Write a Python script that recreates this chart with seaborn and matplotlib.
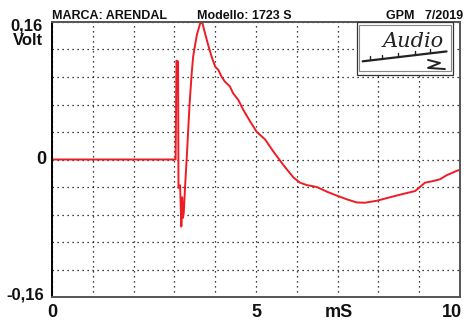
import matplotlib
matplotlib.use("Agg")
import matplotlib.pyplot as plt
import seaborn as sns
import pandas as pd
import numpy as np
from matplotlib.patches import Rectangle

# ---- data ----
time_ms = [0.0, 3.03, 3.05, 3.09, 3.10, 3.14, 3.17, 3.19, 3.21, 3.23, 3.26, 3.30,
           3.37, 3.42, 3.46, 3.55, 3.63, 3.68, 3.75, 3.83, 3.91, 4.00, 4.08, 4.16,
           4.24, 4.36, 4.44, 4.57, 4.69, 4.86, 5.02, 5.22, 5.43, 5.67, 5.92, 6.08,
           6.24, 6.49, 6.74, 6.98, 7.23, 7.47, 7.67, 7.96, 8.28, 8.61, 8.90, 9.02,
           9.14, 9.31, 9.51, 9.67, 9.93, 10.0]
volt = [0.0, 0.0, 0.115, 0.114, -0.033, -0.030, -0.078, -0.044, -0.068, -0.062, -0.033, 0.0,
        0.063, 0.098, 0.120, 0.145, 0.158, 0.160, 0.147, 0.133, 0.120, 0.108, 0.104, 0.096,
        0.0905, 0.085, 0.077, 0.069, 0.0576, 0.044, 0.032, 0.0235, 0.009, -0.0064, -0.021, -0.027,
        -0.0297, -0.032, -0.0375, -0.042, -0.0464, -0.050, -0.0503, -0.048, -0.044, -0.040, -0.0367, -0.032,
        -0.027, -0.0254, -0.023, -0.0184, -0.013, -0.012]

header_left = "MARCA: ARENDAL"
header_mid = "Modello: 1723 S"
header_right = "GPM   7/2019"
y_top_label = "0,16"
y_unit = "Volt"
y_zero_label = "0"
y_bottom_label = "-0,16"
x_label_pos = [0, 5, 9.8]
x_label_txt = ["0", "5", "10"]
x_unit = "mS"
logo_text = "Audio"

df = pd.DataFrame({"t": time_ms, "v": volt})

sns.set_theme(style="white")
plt.rcParams['font.family'] = ['Liberation Sans', 'DejaVu Sans']

fig = plt.figure(figsize=(4.69, 3.20), dpi=100)
ax = fig.add_axes([52/469, 1-297/320, 408/469, 275/320])

sns.lineplot(data=df, x="t", y="v", ax=ax, color="#ee1c25", linewidth=1.4,
             sort=False, estimator=None)

ax.set_xlim(0, 10)
ax.set_ylim(-0.16, 0.16)
ax.set_xticks(np.arange(0, 10.01, 1.0))
ax.set_yticks(np.linspace(-0.16, 0.16, 11))
ax.set_xticklabels([])
ax.set_yticklabels([])
ax.tick_params(length=0)
ax.set_xlabel("")
ax.set_ylabel("")
ax.grid(True, color="black", linestyle=(0, (1, 3)), linewidth=0.9)

for s in ["top", "right", "bottom"]:
    ax.spines[s].set_color("#555555")
    ax.spines[s].set_linewidth(1.4)
ax.spines["left"].set_color("black")
ax.spines["left"].set_linewidth(1.4)

bold = dict(fontweight="bold", color="#111111")
# header
fig.text(52/469, 1-19/320, header_left, fontsize=9, ha="left", va="baseline", **bold)
fig.text(197/469, 1-19/320, header_mid, fontsize=9, ha="left", va="baseline", **bold)
fig.text(463/469, 1-19/320, header_right, fontsize=9, ha="right", va="baseline", **bold)

# y labels
fig.text(43/469, 1-30.5/320, y_top_label, fontsize=12, ha="right", va="baseline", **bold)
fig.text(43/469, 1-45/320, y_unit, fontsize=12, ha="right", va="baseline", **bold)
ax.text(-0.013, 0.0, y_zero_label, transform=ax.get_yaxis_transform(), fontsize=13,
        ha="right", va="center", **bold)
fig.text(44/469, 1-299/320, y_bottom_label, fontsize=12, ha="right", va="baseline", **bold)

# x labels
for k, lab in zip(x_label_pos, x_label_txt):
    ax.text(k, -0.071, lab, transform=ax.get_xaxis_transform(), fontsize=13,
            ha="center", va="baseline", **bold)
ax.text(7.03, -0.071, x_unit, transform=ax.get_xaxis_transform(), fontsize=13,
        ha="center", va="baseline", **bold)

# logo box
ax.add_patch(Rectangle((0.747, 0.808), 0.2366, 0.192, transform=ax.transAxes,
                       facecolor="white", edgecolor="#333333", linewidth=0.9, zorder=5,
                       clip_on=False))
ax.add_patch(Rectangle((0.7525, 0.8207), 0.2245, 0.167, transform=ax.transAxes,
                       facecolor="white", edgecolor="#888888", linewidth=0.8, zorder=6))
ax.text(0.885, 0.93, logo_text, transform=ax.transAxes, fontsize=15, style="italic",
        family=["DejaVu Serif"], ha="center", va="center", color="#222222", zorder=7)
x0, y0, x1, y1 = 0.7615, 0.857, 0.967, 0.893
ax.plot([x0, x1], [y0, y1], transform=ax.transAxes, color="#222222",
        linewidth=1.6, zorder=7)
for xt in [0.779, 0.808, 0.848, 0.89, 0.926]:
    yb = y0 + (xt - x0) * (y1 - y0) / (x1 - x0)
    ax.plot([xt, xt], [yb, yb + 0.016], transform=ax.transAxes, color="#222222",
            linewidth=1.0, zorder=7)
ax.plot([0.9216, 0.951, 0.9216, 0.963], [0.862, 0.851, 0.833, 0.829],
        transform=ax.transAxes, color="#222222", linewidth=1.4, zorder=7)

fig.savefig("out.png", dpi=100)
